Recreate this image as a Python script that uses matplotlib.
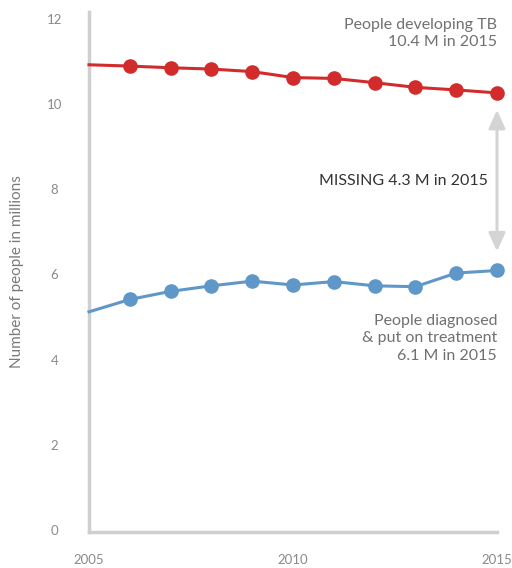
import matplotlib
matplotlib.use("Agg")
import matplotlib.pyplot as plt

years = [2005, 2006, 2007, 2008, 2009, 2010, 2011, 2012, 2013, 2014, 2015]
developing = [10.92, 10.89, 10.85, 10.82, 10.76, 10.62, 10.60, 10.50, 10.39, 10.33, 10.26]
diagnosed = [5.12, 5.41, 5.60, 5.73, 5.84, 5.75, 5.83, 5.73, 5.71, 6.03, 6.09]
yticks = [0, 2, 4, 6, 8, 10, 12]
xticks = [2005, 2010, 2015]

plt.rcParams['font.family'] = ['Lato', 'DejaVu Sans']

RED = '#d22b2b'
BLUE = '#5f97c8'
GRAY_AX = '#cfcfcf'
TXT = '#707070'

fig = plt.figure(figsize=(5.12, 5.68), dpi=100)
ax = fig.add_axes([89/512, 1-532/568, (497-89)/512, (532-12.4)/568])

ax.plot(years, developing, color=RED, lw=2.2, zorder=3, clip_on=False)
ax.plot(years[1:], developing[1:], 'o', color=RED, ms=9.5, zorder=4, clip_on=False)
ax.plot(years, diagnosed, color=BLUE, lw=2.2, zorder=3, clip_on=False)
ax.plot(years[1:], diagnosed[1:], 'o', color=BLUE, ms=9.5, zorder=4, clip_on=False)

ax.set_xlim(2005, 2015)
ax.set_ylim(-0.05, 12.15)
ax.set_yticks(yticks)
ax.set_xticks(xticks)
ax.set_yticklabels([str(v) for v in yticks], ha='center')
ax.tick_params(axis='y', length=0, pad=25, labelsize=9.5, labelcolor='#8a8a8a')
ax.tick_params(axis='x', length=0, pad=16, labelsize=9.5, labelcolor='#8a8a8a')
for s in ['top', 'right']:
    ax.spines[s].set_visible(False)
for s in ['left', 'bottom']:
    ax.spines[s].set_color(GRAY_AX)
    ax.spines[s].set_linewidth(2.5)

fig.text(17/512, 1-272/568, 'Number of people in millions', rotation=90,
         ha='center', va='center', fontsize=11, color='#7a7a7a')

ax.annotate('', xy=(2015, developing[-1]-0.4), xytext=(2015, diagnosed[-1]+0.45),
            arrowprops=dict(arrowstyle='<|-|>,head_length=1.1,head_width=0.5',
                            color='#d4d4d4', lw=2.2, shrinkA=0, shrinkB=0),
            annotation_clip=False)

ax.text(2014.78, 8.2, 'MISSING 4.3 M in 2015', ha='right', va='center',
        fontsize=11.5, color='#333333')
ax.text(2015, 11.66, 'People developing TB\n10.4 M in 2015', ha='right', va='center',
        fontsize=11.5, color=TXT, linespacing=1.3)
ax.text(2015, 4.5, 'People diagnosed\n& put on treatment\n6.1 M in 2015', ha='right',
        va='center', fontsize=11.5, color=TXT, linespacing=1.3)

fig.savefig('out.png', dpi=100)
